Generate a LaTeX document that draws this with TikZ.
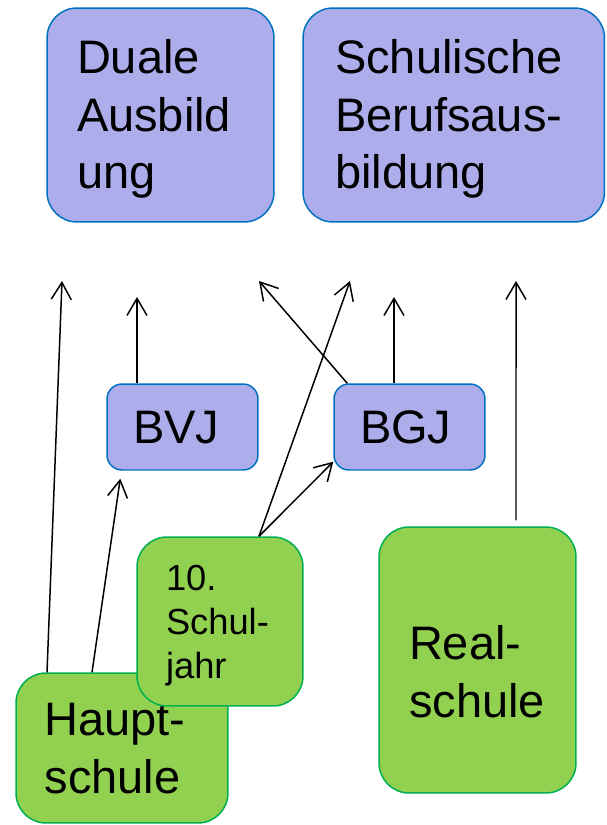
\documentclass[tikz,border=0pt]{standalone}
\usepackage{fontspec}
\setmainfont{Liberation Sans}
\usetikzlibrary{arrows.meta}
\definecolor{boxBlue}{RGB}{173, 173, 235}
\definecolor{boxBlueLine}{RGB}{0, 112, 192}
\definecolor{boxGreen}{RGB}{146, 208, 80}
\definecolor{boxGreenLine}{RGB}{0, 176, 80}

\begin{document}
\begin{tikzpicture}[x=0.02cm, y=-0.02cm,
    bigtext/.style={font=\fontsize{26.75pt}{32.7pt}\selectfont, text height=24.2pt},
    smalltext/.style={font=\fontsize{20.66pt}{25pt}\selectfont, text height=18.7pt},
    blue box/.style={draw=boxBlueLine, fill=boxBlue, line width=0.85pt, rounded corners=0.6cm, align=left, inner sep=0pt},
    green box/.style={draw=boxGreenLine, fill=boxGreen, line width=0.85pt, rounded corners=0.6cm, align=left, inner sep=0pt},
    link/.style={-{Straight Barb[length=3.4mm, width=4mm]}, line width=0.85pt}]
        \useasboundingbox (0,0) rectangle (606,825);
        % destinations
        \node[blue box, bigtext, text depth=71.07pt, minimum width=4.54cm, minimum height=4.28cm, text width=3.34cm] (duale) at (160.5,115) {Duale\\Ausbild\\ung};
        \node[blue box, bigtext, text depth=71.07pt, minimum width=6.03cm, minimum height=4.28cm, text width=4.75cm] (schul) at (453.75,115) {Schulische\\Berufsaus-\\bildung};
        % intermediate years
        \node[blue box, bigtext, text depth=5.67pt, rounded corners=0.3cm, minimum width=3.02cm, minimum height=1.72cm, text width=1.98cm] (bvj) at (182.5,427) {BVJ};
        \node[blue box, bigtext, text depth=5.67pt, rounded corners=0.3cm, minimum width=3.02cm, minimum height=1.72cm, text width=1.98cm] (bgj) at (409.5,427) {BGJ};
        % schools
        \node[green box, bigtext, text depth=38.37pt, minimum width=4.24cm, minimum height=3.0cm, text width=3.1cm] (haupt) at (122,748) {Haupt-\\schule};
        \node[green box, smalltext, text depth=54.38pt, minimum width=3.32cm, minimum height=3.38cm, text width=2.16cm] (zehn) at (220,621.5) {10.\\Schul-\\jahr};
        \node[green box, bigtext, text height=37.87pt, text depth=38.37pt, minimum width=3.94cm, minimum height=5.32cm, text width=2.74cm] (real) at (477.5,660) {Real-\\schule};

        % open arrow ends
        \coordinate (hs-up) at (62,281);
        \coordinate (bvj-up) at (137,297);
        \coordinate (bgj-back) at (259,281);
        \coordinate (bgj-up) at (394,297);
        \coordinate (zehn-up) at (350,281);
        \coordinate (rs-up) at (516,281);

        \draw[link] ([xshift=-1.5cm]haupt.north) -- (hs-up);
        \draw[link] ([xshift=-0.6cm]haupt.north) -- ([xshift=0.28cm, yshift=-0.16cm]bvj.south west);
        \draw[link] (bvj.north -| bvj-up) -- (bvj-up);
        \draw[link] ([xshift=0.28cm]bgj.north west) -- (bgj-back);
        \draw[link] (bgj.north -| bgj-up) -- (bgj-up);
        \draw[link] ([xshift=0.78cm]zehn.north) -- (zehn-up);
        \draw[link] ([xshift=0.78cm]zehn.north) -- ([yshift=0.18cm]bgj.south west);
        \draw[link] ([xshift=0.77cm, yshift=0.12cm]real.north) -- (rs-up);
      \end{tikzpicture}
\end{document}
